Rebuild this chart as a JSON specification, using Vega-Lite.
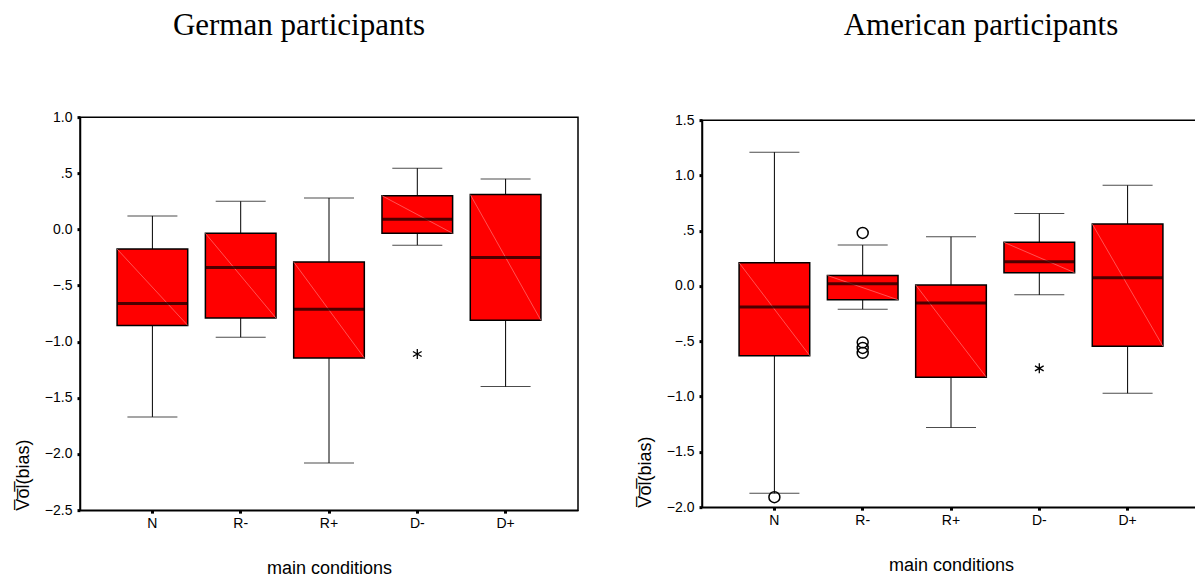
{
  "$schema": "https://vega.github.io/schema/vega-lite/v6.json",
  "padding": {"left": 13, "top": 9, "right": 0, "bottom": 0},
  "background": "white",
  "datasets": {
    "german": [
      {"cond": "N", "lower": -1.67, "q1": -0.855, "median": -0.66, "q3": -0.175, "upper": 0.12},
      {"cond": "R-", "lower": -0.96, "q1": -0.79, "median": -0.34, "q3": -0.035, "upper": 0.25},
      {"cond": "R+", "lower": -2.08, "q1": -1.145, "median": -0.71, "q3": -0.29, "upper": 0.28},
      {"cond": "D-", "lower": -0.14, "q1": -0.035, "median": 0.09, "q3": 0.30, "upper": 0.545},
      {"cond": "D+", "lower": -1.40, "q1": -0.81, "median": -0.25, "q3": 0.31, "upper": 0.45}
    ],
    "german_out": [
      {"cond": "D-", "value": -1.11, "kind": "extreme"}
    ],
    "american": [
      {"cond": "N", "lower": -1.875, "q1": -0.63, "median": -0.19, "q3": 0.21, "upper": 1.21},
      {"cond": "R-", "lower": -0.21, "q1": -0.125, "median": 0.02, "q3": 0.095, "upper": 0.37},
      {"cond": "R+", "lower": -1.28, "q1": -0.825, "median": -0.155, "q3": 0.01, "upper": 0.445},
      {"cond": "D-", "lower": -0.08, "q1": 0.12, "median": 0.22, "q3": 0.395, "upper": 0.655},
      {"cond": "D+", "lower": -0.97, "q1": -0.545, "median": 0.075, "q3": 0.56, "upper": 0.91}
    ],
    "american_out": [
      {"cond": "N", "value": -1.91, "kind": "outlier"},
      {"cond": "R-", "value": 0.48, "kind": "outlier"},
      {"cond": "R-", "value": -0.51, "kind": "outlier"},
      {"cond": "R-", "value": -0.56, "kind": "outlier"},
      {"cond": "R-", "value": -0.605, "kind": "outlier"},
      {"cond": "D-", "value": -0.745, "kind": "extreme"}
    ]
  },
  "center": true,
  "hconcat": [
    {
      "width": 498,
      "height": 393,
      "title": {"text": "German participants", "font": "Liberation Serif", "fontSize": 31, "fontWeight": "normal", "color": "black", "anchor": "middle", "offset": 68, "dx": -30},
      "layer": [
        {
          "data": {"name": "german"},
          "mark": {"type": "rule", "color": "black", "strokeWidth": 1},
          "encoding": {
            "x": {"field": "cond", "type": "nominal", "sort": ["N", "R-", "R+", "D-", "D+"], "scale": {"type": "band", "paddingInner": 0, "paddingOuter": 0.32}, "title": "main conditions", "axis": {"labelAngle": 0}},
            "y": {"field": "lower", "type": "quantitative", "scale": {"domain": [-2.5, 1], "nice": false, "zero": false}, "title": "V̅o̅l̅(bias)", "axis": {"values": [-2.5, -2, -1.5, -1, -0.5, 0, 0.5, 1], "labelExpr": "datum.value == 0 ? '0.0' : replace(format(datum.value, '.1f'), '0.', '.')"}},
            "y2": {"field": "upper"}
          }
        },
        {
          "data": {"name": "german"},
          "mark": {"type": "tick", "color": "black", "size": 50, "thickness": 1},
          "encoding": {
            "x": {"field": "cond", "type": "nominal", "sort": ["N", "R-", "R+", "D-", "D+"], "title": "main conditions"},
            "y": {"field": "lower", "type": "quantitative", "title": "V̅o̅l̅(bias)"}
          }
        },
        {
          "data": {"name": "german"},
          "mark": {"type": "tick", "color": "black", "size": 50, "thickness": 1},
          "encoding": {
            "x": {"field": "cond", "type": "nominal", "sort": ["N", "R-", "R+", "D-", "D+"], "title": "main conditions"},
            "y": {"field": "upper", "type": "quantitative", "title": "V̅o̅l̅(bias)"}
          }
        },
        {
          "data": {"name": "german"},
          "mark": {"type": "bar", "fill": "#ff0000", "stroke": "black", "strokeWidth": 1.5, "width": {"band": 0.8}},
          "encoding": {
            "x": {"field": "cond", "type": "nominal", "sort": ["N", "R-", "R+", "D-", "D+"], "title": "main conditions"},
            "y": {"field": "q1", "type": "quantitative", "title": "V̅o̅l̅(bias)"},
            "y2": {"field": "q3"}
          }
        },
        {
          "data": {"name": "german"},
          "mark": {"type": "rule", "color": "#ff8a8a", "strokeWidth": 0.6},
          "encoding": {
            "x": {"field": "cond", "type": "nominal", "sort": ["N", "R-", "R+", "D-", "D+"], "bandPosition": 0.1, "title": "main conditions"},
            "x2": {"field": "cond", "bandPosition": 0.9},
            "y": {"field": "q3", "type": "quantitative", "title": "V̅o̅l̅(bias)"},
            "y2": {"field": "q1"}
          }
        },
        {
          "data": {"name": "german"},
          "mark": {"type": "tick", "color": "black", "size": 70, "thickness": 3},
          "encoding": {
            "x": {"field": "cond", "type": "nominal", "sort": ["N", "R-", "R+", "D-", "D+"], "title": "main conditions"},
            "y": {"field": "median", "type": "quantitative", "title": "V̅o̅l̅(bias)"}
          }
        },
        {
          "data": {"name": "german_out"},
          "mark": {"type": "point", "shape": "M0,-1L0,1M-0.87,-0.5L0.87,0.5M-0.87,0.5L0.87,-0.5", "stroke": "black", "strokeWidth": 1.3, "filled": false, "size": 100, "opacity": 1},
          "encoding": {
            "x": {"field": "cond", "type": "nominal", "sort": ["N", "R-", "R+", "D-", "D+"], "title": "main conditions"},
            "y": {"field": "value", "type": "quantitative", "title": "V̅o̅l̅(bias)"}
          }
        }
      ]
    },
    {
      "width": 498,
      "height": 387,
      "title": {"text": "American participants", "font": "Liberation Serif", "fontSize": 31, "fontWeight": "normal", "color": "black", "anchor": "middle", "offset": 71, "dx": 30},
      "layer": [
        {
          "data": {"name": "american"},
          "mark": {"type": "rule", "color": "black", "strokeWidth": 1},
          "encoding": {
            "x": {"field": "cond", "type": "nominal", "sort": ["N", "R-", "R+", "D-", "D+"], "scale": {"type": "band", "paddingInner": 0, "paddingOuter": 0.32}, "title": "main conditions", "axis": {"labelAngle": 0}},
            "y": {"field": "lower", "type": "quantitative", "scale": {"domain": [-2, 1.5], "nice": false, "zero": false}, "title": "V̅o̅l̅(bias)", "axis": {"values": [-2, -1.5, -1, -0.5, 0, 0.5, 1, 1.5], "labelExpr": "datum.value == 0 ? '0.0' : replace(format(datum.value, '.1f'), '0.', '.')"}},
            "y2": {"field": "upper"}
          }
        },
        {
          "data": {"name": "american"},
          "mark": {"type": "tick", "color": "black", "size": 50, "thickness": 1},
          "encoding": {
            "x": {"field": "cond", "type": "nominal", "sort": ["N", "R-", "R+", "D-", "D+"], "title": "main conditions"},
            "y": {"field": "lower", "type": "quantitative", "title": "V̅o̅l̅(bias)"}
          }
        },
        {
          "data": {"name": "american"},
          "mark": {"type": "tick", "color": "black", "size": 50, "thickness": 1},
          "encoding": {
            "x": {"field": "cond", "type": "nominal", "sort": ["N", "R-", "R+", "D-", "D+"], "title": "main conditions"},
            "y": {"field": "upper", "type": "quantitative", "title": "V̅o̅l̅(bias)"}
          }
        },
        {
          "data": {"name": "american"},
          "mark": {"type": "bar", "fill": "#ff0000", "stroke": "black", "strokeWidth": 1.5, "width": {"band": 0.8}},
          "encoding": {
            "x": {"field": "cond", "type": "nominal", "sort": ["N", "R-", "R+", "D-", "D+"], "title": "main conditions"},
            "y": {"field": "q1", "type": "quantitative", "title": "V̅o̅l̅(bias)"},
            "y2": {"field": "q3"}
          }
        },
        {
          "data": {"name": "american"},
          "mark": {"type": "rule", "color": "#ff8a8a", "strokeWidth": 0.6},
          "encoding": {
            "x": {"field": "cond", "type": "nominal", "sort": ["N", "R-", "R+", "D-", "D+"], "bandPosition": 0.1, "title": "main conditions"},
            "x2": {"field": "cond", "bandPosition": 0.9},
            "y": {"field": "q3", "type": "quantitative", "title": "V̅o̅l̅(bias)"},
            "y2": {"field": "q1"}
          }
        },
        {
          "data": {"name": "american"},
          "mark": {"type": "tick", "color": "black", "size": 70, "thickness": 3},
          "encoding": {
            "x": {"field": "cond", "type": "nominal", "sort": ["N", "R-", "R+", "D-", "D+"], "title": "main conditions"},
            "y": {"field": "median", "type": "quantitative", "title": "V̅o̅l̅(bias)"}
          }
        },
        {
          "data": {"name": "american_out"},
          "transform": [{"filter": "datum.kind == 'outlier'"}],
          "mark": {"type": "point", "shape": "circle", "stroke": "black", "strokeWidth": 1.5, "filled": false, "size": 120, "opacity": 1},
          "encoding": {
            "x": {"field": "cond", "type": "nominal", "sort": ["N", "R-", "R+", "D-", "D+"], "title": "main conditions"},
            "y": {"field": "value", "type": "quantitative", "title": "V̅o̅l̅(bias)"}
          }
        },
        {
          "data": {"name": "american_out"},
          "transform": [{"filter": "datum.kind == 'extreme'"}],
          "mark": {"type": "point", "shape": "M0,-1L0,1M-0.87,-0.5L0.87,0.5M-0.87,0.5L0.87,-0.5", "stroke": "black", "strokeWidth": 1.3, "filled": false, "size": 100, "opacity": 1},
          "encoding": {
            "x": {"field": "cond", "type": "nominal", "sort": ["N", "R-", "R+", "D-", "D+"], "title": "main conditions"},
            "y": {"field": "value", "type": "quantitative", "title": "V̅o̅l̅(bias)"}
          }
        }
      ]
    }
  ],
  "spacing": 56,
  "config": {
    "view": {"stroke": "black", "strokeWidth": 1.5, "fill": "white"},
    "axis": {
      "grid": false,
      "domainColor": "black",
      "domainWidth": 1.5,
      "tickColor": "black",
      "tickSize": 3,
      "tickWidth": 3,
      "labelFont": "Liberation Sans",
      "labelFontSize": 14,
      "labelColor": "black",
      "labelPadding": 5,
      "titleFont": "Liberation Sans",
      "titleFontSize": 18,
      "titleFontWeight": "normal",
      "titleColor": "black"
    },
    "axisX": {"titlePadding": 29, "labelPadding": 3},
    "axisY": {"titlePadding": 12, "titleAnchor": "start"}
  }
}
